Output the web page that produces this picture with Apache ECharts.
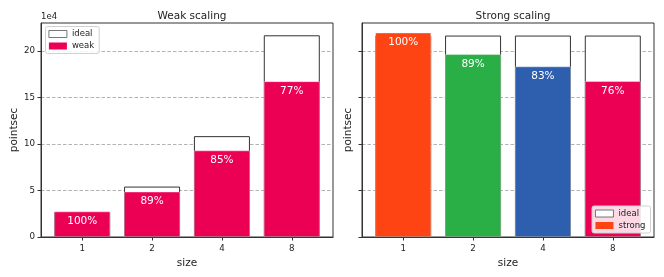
<!DOCTYPE html>
<html><head><meta charset="utf-8">
<script src="https://cdn.jsdelivr.net/npm/echarts@6/dist/echarts.min.js"></script>
<style>html,body{margin:0;padding:0;background:#fff}#c{width:664px;height:277px}</style>
</head><body><div id="c"></div>
<script>
const sizes = ['1', '2', '4', '8'];
const weakIdeal = [27100, 54200, 108400, 216800];
const weakVals = [27400, 48700, 93000, 167400];
const weakPct = ['100%', '89%', '85%', '77%'];
const strongIdeal = [216500, 216500, 216500, 216500];
const strongVals = [219700, 196500, 183300, 167500];
const strongPct = ['100%', '89%', '83%', '76%'];
const strongColors = ['#FF4413', '#2AAE46', '#2E5FAF', '#EC0054'];
const weakColor = '#EC0054';
const yTicks = [0, 50000, 100000, 150000, 200000];
const xPos = [0, 1, 2, 3];

const FONT = 'DejaVu Sans';
const chart = echarts.init(document.getElementById('c'), null, {renderer: 'canvas'});

function xAxis(gi) {
  return {
    type: 'value', gridIndex: gi, min: -0.59, max: 3.59,
    name: 'size', nameLocation: 'middle', nameGap: 20,
    nameTextStyle: {fontFamily: FONT, fontSize: 10.5, color: '#222'},
    axisLine: {show: true, onZero: false, lineStyle: {color: '#333', width: 1}},
    axisTick: {show: true, length: 3.5, customValues: xPos, lineStyle: {color: '#333'}},
    axisLabel: {customValues: xPos, margin: 7, fontFamily: FONT, fontSize: 8.7, color: '#222',
      formatter: v => sizes[Math.round(v)]},
    splitLine: {show: false}
  };
}
function yAxis(gi, showLabels, gap) {
  return {
    type: 'value', gridIndex: gi, min: 0, max: 230000, interval: 50000,
    name: 'pointsec', nameLocation: 'middle', nameGap: gap,
    nameTextStyle: {fontFamily: FONT, fontSize: 10.5, color: '#222'},
    axisLine: {show: true, onZero: false, lineStyle: {color: '#333', width: 1}},
    axisTick: {show: true, length: 3.5, customValues: yTicks, lineStyle: {color: '#333'}},
    axisLabel: {show: showLabels, customValues: yTicks, margin: 6, fontFamily: FONT, fontSize: 8.7, color: '#222',
      formatter: v => String(v / 10000)},
    splitLine: {show: true, lineStyle: {color: '#a0a0a0', type: [3.5, 2], width: 0.8}}
  };
}
const labelStyle = {show: true, position: 'insideTop', distance: 4.5, color: '#fff', fontFamily: FONT, fontSize: 10.5};
const idealStyle = {color: '#fff', borderColor: '#333', borderWidth: 1};
const edge = {borderColor: 'rgba(255,255,255,0.45)', borderWidth: 0.8};
const legendBase = {orient: 'vertical', itemWidth: 18, itemHeight: 7, itemGap: 3,
  padding: [3, 5, 3, 3], borderColor: '#d0d0d0', borderWidth: 1, borderRadius: 2, backgroundColor: 'rgba(255,255,255,0.85)',
  textStyle: {fontFamily: FONT, fontSize: 8.5, color: '#222'}, icon: 'rect'};
const idealLegend = {name: 'ideal', itemStyle: {color: '#fff', borderColor: '#555', borderWidth: 0.8}};

chart.setOption({
  animation: false,
  title: [
    {text: 'Weak scaling', left: 187, top: 6, textAlign: 'center', textStyle: {fontFamily: FONT, fontSize: 10.5, fontWeight: 'normal', color: '#222'}},
    {text: 'Strong scaling', left: 508, top: 6, textAlign: 'center', textStyle: {fontFamily: FONT, fontSize: 10.5, fontWeight: 'normal', color: '#222'}}
  ],
  grid: [
    {left: 41, top: 23, width: 292, height: 214, show: true, borderColor: '#333', borderWidth: 1, backgroundColor: 'transparent'},
    {left: 362, top: 23, width: 292, height: 214, show: true, borderColor: '#333', borderWidth: 1, backgroundColor: 'transparent'}
  ],
  xAxis: [xAxis(0), xAxis(1)],
  yAxis: [yAxis(0, true, 21), yAxis(1, false, 8)],
  legend: [
    Object.assign({data: [idealLegend, {name: 'weak', itemStyle: {borderWidth: 0}}], left: 45.5, top: 26.5}, legendBase),
    Object.assign({data: [idealLegend, {name: 'strong', itemStyle: {borderWidth: 0}}], right: 13.5, top: 206}, legendBase)
  ],
  graphic: [
    {type: 'text', left: 41, top: 12.5, style: {text: '1e4', fontFamily: FONT, fontSize: 8.5, fill: '#222'}}
  ],
  series: [
    {name: 'ideal', type: 'bar', xAxisIndex: 0, yAxisIndex: 0, barWidth: 56, barGap: '-100%',
      itemStyle: idealStyle, data: weakIdeal.map((v, i) => [xPos[i], v])},
    {name: 'weak', type: 'bar', xAxisIndex: 0, yAxisIndex: 0, barWidth: 56, barGap: '-100%',
      itemStyle: Object.assign({color: weakColor}, edge),
      label: Object.assign({formatter: p => weakPct[p.dataIndex]}, labelStyle),
      data: weakVals.map((v, i) => [xPos[i], v])},
    {name: 'ideal', type: 'bar', xAxisIndex: 1, yAxisIndex: 1, barWidth: 56, barGap: '-100%',
      itemStyle: idealStyle, data: strongIdeal.map((v, i) => [xPos[i], v])},
    {name: 'strong', type: 'bar', xAxisIndex: 1, yAxisIndex: 1, barWidth: 56, barGap: '-100%',
      itemStyle: Object.assign({color: strongColors[0]}, edge),
      label: Object.assign({formatter: p => strongPct[p.dataIndex]}, labelStyle),
      data: strongVals.map((v, i) => ({value: [xPos[i], v], itemStyle: {color: strongColors[i]}}))}
  ]
});
</script></body></html>
